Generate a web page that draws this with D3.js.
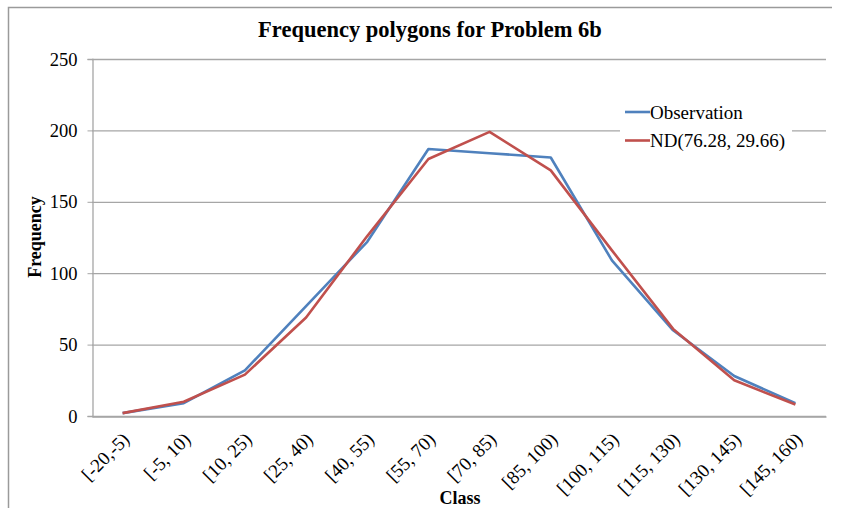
<!DOCTYPE html>
<html><head><meta charset="utf-8">
<script src="https://cdn.jsdelivr.net/npm/d3@7"></script>
<style>body{margin:0;background:#fff}svg{display:block}</style>
</head><body>
<svg id="c" width="841" height="508"></svg>
<script>
const categories = ["[-20,-5)","[-5, 10)","[10, 25)","[25, 40)","[40, 55)","[55, 70)","[70, 85)","[85, 100)","[100, 115)","[115, 130)","[130, 145)","[145, 160)"];
const observation = [2, 9, 32, 77, 122, 187, 184, 181, 109, 60, 28, 9];
const normalDist = [2, 10, 29, 69, 126, 180, 199, 172, 116, 61, 25, 8];
const yTicks = [0, 50, 100, 150, 200, 250];
const seriesNames = ["Observation", "ND(76.28, 29.66)"];
const seriesColors = ["#4F81BD", "#C0504D"];

const svg = d3.select("#c");
const font = "'Liberation Serif', 'Times New Roman', serif";
const L = 92, R = 826, T = 59, B = 416;

// outer frame (left & top visible)
svg.append("path").attr("d", "M8.5,508 L8.5,7.5 L832,7.5").attr("fill","none").attr("stroke","#9a9a9a").attr("stroke-width",1.5);

const x = d3.scaleBand().domain(categories).range([L, R]);
const y = d3.scaleLinear().domain([0, 250]).range([B, T]);

// gridlines
svg.append("g").selectAll("line").data(yTicks).join("line")
  .attr("x1", L).attr("x2", R).attr("y1", d => y(d)+0.5).attr("y2", d => y(d)+0.5)
  .attr("stroke", "#a6a6a6").attr("stroke-width", 1.3);

// y axis
const ya = svg.append("g").attr("transform", `translate(${L+0.5},0)`)
  .call(d3.axisLeft(y).tickValues(yTicks).tickSize(5).tickPadding(10));
ya.select(".domain").attr("stroke", "#a6a6a6").attr("stroke-width", 1.3);
ya.selectAll(".tick line").attr("stroke", "#a6a6a6");
ya.selectAll("text").attr("font-family", font).attr("font-size", 18.5).attr("fill", "#000").attr("dy", "0.33em");

// x axis
const xa = svg.append("g").attr("transform", `translate(0,${B+0.5})`)
  .call(d3.axisBottom(x).tickSize(0).tickPadding(0));
xa.select(".domain").attr("stroke", "#a6a6a6").attr("stroke-width", 1.3);
xa.selectAll(".tick text")
  .attr("font-family", font).attr("font-size", 19).attr("fill", "#000")
  .attr("text-anchor", "end").attr("dy", 0)
  .attr("transform", "translate(8,24) rotate(-45)");

// lines
const line = d3.line().x((d, i) => x(categories[i]) + x.bandwidth()/2).y(d => y(d));
[observation, normalDist].forEach((s, k) => {
  svg.append("path").datum(s).attr("d", line).attr("fill", "none")
    .attr("stroke", seriesColors[k]).attr("stroke-width", 2.6).attr("stroke-linejoin", "round");
});

// legend
const lg = svg.append("g");
lg.append("rect").attr("x", 620).attr("y", 98).attr("width", 172).attr("height", 58).attr("fill", "#fff");
seriesNames.forEach((n, i) => {
  const yy = 112 + i*28.5;
  lg.append("line").attr("x1", 625).attr("x2", 650).attr("y1", yy).attr("y2", yy)
    .attr("stroke", seriesColors[i]).attr("stroke-width", 2.6);
  lg.append("text").attr("x", 650).attr("y", yy + 6.5).text(n)
    .attr("font-family", font).attr("font-size", 19).attr("fill", "#000");
});

// title
svg.append("text").attr("x", 430).attr("y", 37).attr("text-anchor", "middle")
  .attr("font-family", font).attr("font-size", 22.5).attr("font-weight", "bold")
  .text("Frequency polygons for Problem 6b");

// axis titles
svg.append("text").attr("x", 460).attr("y", 504).attr("text-anchor", "middle")
  .attr("font-family", font).attr("font-size", 18).attr("font-weight", "bold").text("Class");
svg.append("text").attr("transform", "translate(41,237) rotate(-90)").attr("text-anchor", "middle")
  .attr("font-family", font).attr("font-size", 18).attr("font-weight", "bold").text("Frequency");
</script>
</body></html>
